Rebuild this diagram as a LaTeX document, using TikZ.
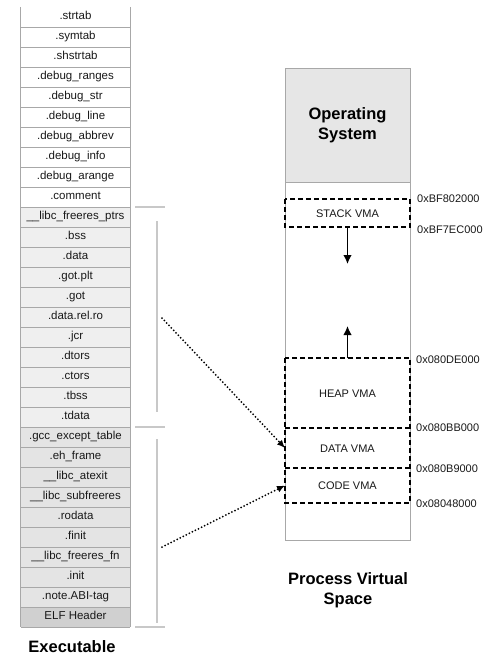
\documentclass[tikz,border=0pt]{standalone}
\usepackage{fontspec}
\setmainfont{Liberation Sans}
\usepackage{tikz}
\usetikzlibrary{arrows.meta,positioning}
\definecolor{edgegrey}{HTML}{A8A8A8}
\definecolor{bracegrey}{HTML}{C8C8C8}
\definecolor{datagrey}{HTML}{EFEFEF}
\definecolor{codegrey}{HTML}{E4E4E4}
\definecolor{headgrey}{HTML}{D0D0D0}
\definecolor{osgrey}{HTML}{E6E6E6}
\tikzset{
  section/.style    = {minimum width=109pt, minimum height=20pt, inner sep=0pt,
                       text height=8.3pt, text depth=2.4pt,
                       text=black!90, font=\fontsize{11.5}{12}\selectfont},
  sect plain/.style = {section, fill=white},
  sect data/.style  = {section, fill=datagrey},
  sect code/.style  = {section, fill=codegrey},
  sect head/.style  = {section, fill=headgrey},
  row line/.style   = {edgegrey, line width=0.8pt},
  brace line/.style = {bracegrey, line width=1.4pt},
  vma/.style        = {minimum width=125pt, inner sep=0pt, outer sep=0pt,
                       text height=8pt, text depth=0pt,
                       text=black!90, font=\fontsize{11}{12}\selectfont},
  vma line/.style   = {black, line width=2pt, dash pattern=on 5pt off 3pt},
  addr/.style       = {anchor=west, inner sep=0pt, text=black!90,
                       font=\fontsize{11}{12}\selectfont},
  growth arrow/.style = {-{Latex[length=9pt,width=8.5pt]}, line width=1.5pt},
  map link/.style   = {-{Latex[length=8pt,width=7pt]}, line width=2pt,
                       line cap=round, dash pattern=on 0pt off 3.4pt},
  heading/.style    = {font=\fontsize{16.5}{20}\selectfont\bfseries, align=center},
}

\begin{document}
\begin{tikzpicture}[x=1pt, y=-1pt]
  \useasboundingbox (0,0) rectangle (500,661);
  % sections of the executable
  \foreach \name/\kind [count=\i] in {
      .strtab/plain, .symtab/plain, .shstrtab/plain, .debug\_ranges/plain,
      .debug\_str/plain, .debug\_line/plain, .debug\_abbrev/plain,
      .debug\_info/plain, .debug\_arange/plain, .comment/plain,
      \_\_libc\_freeres\_ptrs/data, .bss/data, .data/data, .got.plt/data,
      .got/data, .data.rel.ro/data, .jcr/data, .dtors/data, .ctors/data,
      .tbss/data, .tdata/data,
      .gcc\_except\_table/code, .eh\_frame/code, \_\_libc\_atexit/code,
      \_\_libc\_subfreeres/code, .rodata/code, .finit/code,
      \_\_libc\_freeres\_fn/code, .init/code, .note.ABI-tag/code,
      ELF Header/head}
    \node[sect \kind] (s\i) at (75.5, 20*\i-3) {\name};
  \draw[row line] (s1.north west) -- (s31.south west);
  \draw[row line] (s1.north east) -- (s31.south east);
  \foreach \i in {1,...,31}
    \draw[row line] (s\i.south west) -- (s\i.south east);
  % segment brackets
  \draw[brace line] (135,207) -- (165,207);
  \draw[brace line] (157,221) -- (157,412);
  \draw[brace line] (135,427) -- (165,427);
  \draw[brace line] (157,439) -- (157,623);
  \draw[brace line] (135,627) -- (165,627);
  % process virtual space
  \node[draw=edgegrey, fill=white, minimum width=125pt, minimum height=472pt,
        inner sep=0pt] (space) at (347.5,304) {};
  \node[draw=edgegrey, fill=osgrey, minimum width=125pt, minimum height=114pt,
        inner sep=0pt, heading] (os) at (347.5,125) {Operating\\System};
  \node[vma, minimum height=28pt] (stack) at (347.5,213) {STACK VMA};
  \node[vma, minimum height=70pt] (heap) at (347.5,393) {HEAP VMA};
  \node[vma, minimum height=40pt] (data) at (347.5,448) {DATA VMA};
  \node[vma, minimum height=35pt] (code) at (347.5,485.5) {CODE VMA};
  \draw[vma line] (stack.north west) rectangle (stack.south east);
  \draw[vma line] (heap.north west) rectangle (code.south east);
  \draw[vma line] (heap.south west) -- (heap.south east);
  \draw[vma line] (data.south west) -- (data.south east);
  \node[addr] (a1) at (417,199) {0xBF802000};
  \node[addr] (a2) at (417,230) {0xBF7EC000};
  \node[addr] (a3) at (416,360) {0x080DE000};
  \node[addr] (a4) at (416,428) {0x080BB000};
  \node[addr] (a5) at (416,469) {0x080B9000};
  \node[addr] (a6) at (416,504) {0x08048000};
  % growth of stack and heap
  \coordinate (stack end) at (347.5,264);
  \coordinate (heap end) at (347.5,326);
  \draw[growth arrow] (stack) -- (stack end);
  \draw[growth arrow] (heap) -- (heap end);
  % mapping of the segments
  \coordinate (data src) at (162,318);
  \coordinate (code src) at (162,547);
  \draw[map link] (data src) -- (data.west);
  \draw[map link] (code src) -- (code.west);
  \node[heading] (exe) at (72,647) {Executable};
  \node[heading] (pvs) at (348,590) {Process Virtual\\Space};
\end{tikzpicture}
\end{document}
